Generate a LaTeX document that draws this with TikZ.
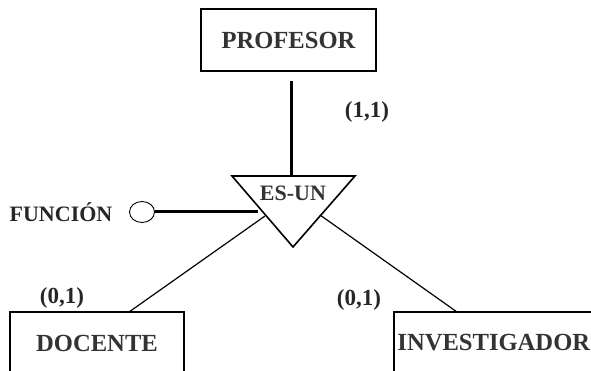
\documentclass[tikz,border=0pt]{standalone}
\usepackage{fontspec}
\setmainfont{Liberation Serif}
\usetikzlibrary{shapes.geometric}
\begin{document}
\begin{tikzpicture}[x=1pt,y=-1pt,
  entity/.style={draw, line width=1.6pt, minimum height=62pt, inner sep=0pt,
    font=\fontsize{24.6}{26}\selectfont\bfseries, text=black!80},
  card/.style={font=\fontsize{23}{25}\selectfont\bfseries, text=black!85},
  heavy/.style={line width=3pt},
  light/.style={line width=1.2pt},
  attrib/.style={draw, ellipse, line width=0.9pt, minimum width=25pt, minimum height=21pt, inner sep=0pt}]
\useasboundingbox (0,0) rectangle (591,371);

% entities
\node[entity, minimum width=175pt] (prof) at (288.5,40) {PROFESOR};
\node[entity, minimum width=174pt] (doc) at (97,343) {DOCENTE};
\node[entity, minimum width=200pt, anchor=west] (inv) at (393,343) {INVESTIGADOR};

% IS-A triangle
\coordinate (tl) at (232,176);
\coordinate (tr) at (355,176);
\coordinate (tb) at (293,247);
\draw[line width=1.6pt, line join=miter] (tl) -- (tr) -- (tb) -- cycle;
\node[font=\fontsize{22}{24}\selectfont\bfseries, text=black!80] (isa) at (293,193) {ES-UN};

% attachment points on the triangle and boxes
\coordinate (ttop) at (291,176);
\coordinate (tfn) at (258,212);
\coordinate (tleft) at (265,216);
\coordinate (tright) at (320,215);
\coordinate (dtop) at (129,312);
\coordinate (itop) at (457,312);

% discriminating attribute
\node[attrib] (fn) at (142,212) {};
\node[font=\fontsize{22}{24}\selectfont\bfseries, text=black!85] (fnlabel) at (61,212) {FUNCIÓN};

% connectors
\draw[heavy] ([yshift=-9pt]prof.south -| ttop) -- (ttop);
\draw[heavy] (fn.east) -- (tfn);
\draw[light] (tleft) -- (dtop);
\draw[light] (tright) -- (itop);

% cardinalities
\node[card] (c11) at (367,112) {(1,1)};
\node[card] (c01a) at (62,298) {(0,1)};
\node[card] (c01b) at (359,300) {(0,1)};
\end{tikzpicture}
\end{document}
